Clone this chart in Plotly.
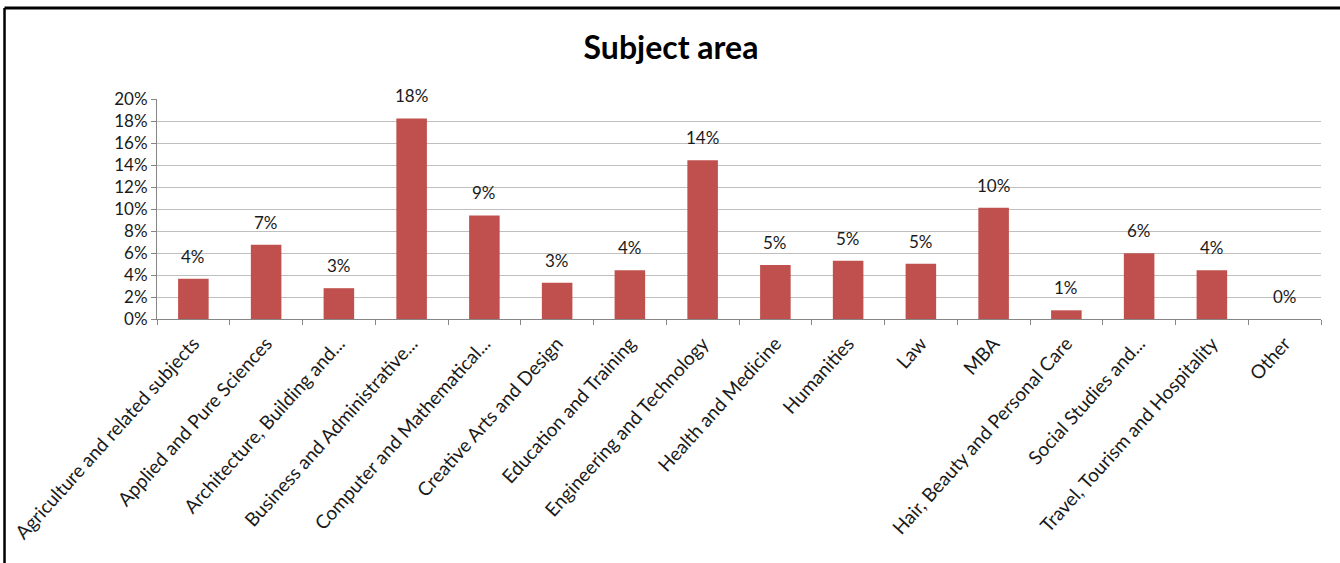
import plotly.graph_objects as go

categories = [
    "Agriculture and related subjects",
    "Applied and Pure Sciences",
    "Architecture, Building and...",
    "Business and Administrative...",
    "Computer and Mathematical...",
    "Creative Arts and Design",
    "Education and Training",
    "Engineering and Technology",
    "Health and Medicine",
    "Humanities",
    "Law",
    "MBA",
    "Hair, Beauty and Personal Care",
    "Social Studies and...",
    "Travel, Tourism and Hospitality",
    "Other",
]
values = [0.0365, 0.0676, 0.0280, 0.1823, 0.0941, 0.0329, 0.0444, 0.1443,
          0.0490, 0.0530, 0.0502, 0.1011, 0.0079, 0.0597, 0.0444, 0.0]
y_ticks = [0, 0.02, 0.04, 0.06, 0.08, 0.10, 0.12, 0.14, 0.16, 0.18, 0.20]

FONT = "Lato"
BAR = "#C0504D"
TXT = "#1a1a1a"

fig = go.Figure()
fig.add_trace(go.Bar(
    x=categories, y=values,
    marker=dict(color=BAR, line=dict(width=0)),
    width=0.42,
    hoverinfo="skip",
))

for c, v in zip(categories, values):
    fig.add_annotation(
        x=c, y=v, xref="x", yref="y",
        text=f"{round(v * 100)}%",
        showarrow=False, yanchor="bottom", yshift=10,
        font=dict(family=FONT, size=17, color=TXT),
    )

# chart frame (top and left border)
fig.add_shape(type="line", xref="paper", yref="paper",
              x0=-0.131, x1=1.03, y0=1.414, y1=1.414,
              line=dict(color="black", width=3))
fig.add_shape(type="line", xref="paper", yref="paper",
              x0=-0.131, x1=-0.131, y0=1.414, y1=-1.2,
              line=dict(color="black", width=2.5))

fig.update_layout(
    width=1340, height=563,
    margin=dict(l=157, r=19, t=99, b=244),
    paper_bgcolor="white", plot_bgcolor="white",
    showlegend=False,
    title=dict(text="<b>Subject area</b>", x=671 / 1340, xref="container",
               xanchor="center", y=1 - 48 / 563, yref="container",
               yanchor="middle",
               font=dict(family=FONT, size=32, color="black")),
    font=dict(family=FONT, size=17, color=TXT),
)
fig.update_xaxes(
    tickangle=-48, tickfont=dict(family=FONT, size=19, color=TXT),
    ticklabelstandoff=5,
    showline=True, linecolor="#868686", linewidth=1,
    ticks="outside", tickson="boundaries", ticklen=5, tickcolor="#868686",
    showgrid=False, automargin=False,
)
fig.update_yaxes(
    range=[0, 0.2], tickvals=y_ticks, tickformat=".0%",
    tickfont=dict(family=FONT, size=17, color=TXT),
    showline=True, linecolor="#868686", linewidth=1,
    ticks="outside", ticklen=5, tickcolor="#868686",
    showgrid=True, gridcolor="#BFBFBF", gridwidth=1,
    zeroline=False, automargin=False,
)

fig.write_html("out.html",
               config={"displayModeBar": False},
               post_script="document.body.style.margin='0';document.body.style.padding='0';")
